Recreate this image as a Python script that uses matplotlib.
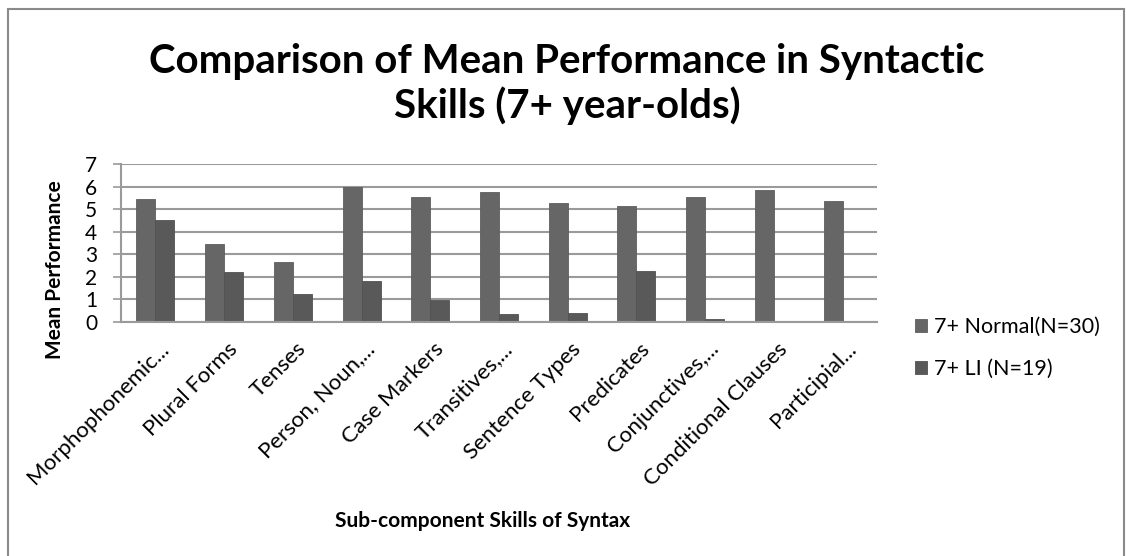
import matplotlib.pyplot as plt
import matplotlib.transforms as mtransforms
import numpy as np
from matplotlib.patches import Rectangle

# data
skills = ["Morphophonemic...", "Plural Forms", "Tenses", "Person, Noun,...", "Case Markers",
          "Transitives,...", "Sentence Types", "Predicates", "Conjunctives,...",
          "Conditional Clauses", "Participial..."]
normal_7 = [5.45, 3.45, 2.67, 6.0, 5.55, 5.78, 5.26, 5.14, 5.55, 5.85, 5.35]
li_7 = [4.53, 2.22, 1.24, 1.82, 0.96, 0.37, 0.41, 2.27, 0.15, 0, 0]
series_names = ["7+ Normal(N=30)", "7+ LI (N=19)"]

plt.rcParams['font.family'] = ['Lato', 'DejaVu Sans']

fig = plt.figure(figsize=(11.27, 5.56), dpi=100)
W, H = 1127, 556
ax = fig.add_axes([121 / W, 1 - 322 / H, (877 - 121) / W, (322 - 164) / H])

x = np.arange(len(skills))
w = 0.277
ax.bar(x - w / 2, normal_7, w, color='#666666', edgecolor='#5e5e5e', linewidth=0.6, label=series_names[0])
ax.bar(x + w / 2, li_7, w, color='#595959', edgecolor='#525252', linewidth=0.6, label=series_names[1])

ax.set_xlim(-0.5, len(skills) - 0.5)
ax.set_ylim(0, 7)
ax.set_yticks(range(8))
ax.tick_params(axis='y', labelsize=15, length=6, color='#9a9a9a', width=1.2, pad=11)
ax.tick_params(axis='x', length=0, pad=12)
ax.set_xticks(x)
ax.set_xticklabels(skills, rotation=45, ha='right', rotation_mode='anchor', fontsize=16)
shift = mtransforms.ScaledTranslation(3 / 100, 0, fig.dpi_scale_trans)
for lab in ax.get_xticklabels():
    lab.set_transform(lab.get_transform() + shift)
ax.yaxis.grid(True, color='#9a9a9a', linewidth=1.5)
ax.set_axisbelow(True)
for s in ['top', 'right']:
    ax.spines[s].set_visible(False)
ax.spines['left'].set_color('#9a9a9a')
ax.spines['bottom'].set_color('#9a9a9a')
ax.spines['left'].set_linewidth(1.5)
ax.spines['bottom'].set_linewidth(1.5)

fig.text(55 / W, 1 - 270 / H, "Mean Performance", fontsize=15, fontweight='bold',
         rotation=90, ha='center', va='center')
fig.text(483 / W, 1 - 521 / H, "Sub-component Skills of Syntax", fontsize=15, fontweight='bold',
         ha='center', va='center')
fig.text(567 / W, 1 - 84 / H, "Comparison of Mean Performance in Syntactic\nSkills (7+ year-olds)",
         fontsize=29, fontweight='bold', ha='center', va='center', linespacing=1.2)

ax.legend(loc='center left', bbox_to_anchor=(915 / W, 1 - 348 / H), bbox_transform=fig.transFigure,
          frameon=False, fontsize=15.5, handlelength=0.55, handleheight=0.55, handletextpad=0.35,
          labelspacing=1.0, borderpad=0, borderaxespad=0)

fig.patches.append(Rectangle((8 / W, -0.05), (1124 - 8) / W, 1.05 - 9 / H, transform=fig.transFigure,
                             fill=False, edgecolor='#8a8a8a', linewidth=1.5))

fig.savefig('out.png', dpi=100)
